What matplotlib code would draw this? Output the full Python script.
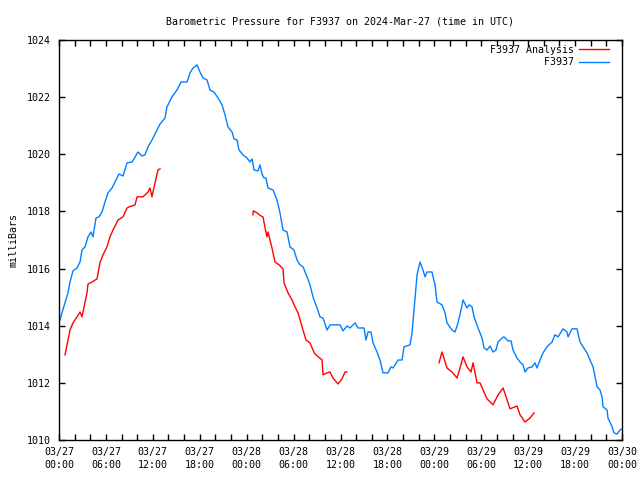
import matplotlib
matplotlib.use("Agg")
import matplotlib.pyplot as plt
import matplotlib.dates as mdates
import numpy as np
import pandas as pd

start = pd.Timestamp("2024-03-27 00:00")

# hours after 03/27 00:00 UTC, pressure in mb
obs_hours = [0.13, 0.38, 0.77, 1.15, 1.41, 1.79, 2.30, 2.69, 2.94, 3.33, 3.71, 4.09, 4.35,
             4.73, 5.12, 5.50, 5.88, 6.27, 6.78, 7.16, 7.67, 8.19, 8.70, 9.34, 10.10, 10.62,
             11.00, 11.38, 11.89, 12.92, 13.56, 13.81, 14.45, 15.09, 15.60, 16.37, 16.75,
             17.14, 17.65, 18.03, 18.42, 18.93, 19.31, 19.82, 20.34, 20.85, 21.23, 21.61,
             22.13, 22.38, 22.77, 23.02, 23.53, 24.04, 24.43, 24.68, 24.94, 25.45, 25.71,
             25.96, 26.22, 26.47, 26.73, 27.37, 27.88, 28.26, 28.65, 29.16, 29.54, 30.05,
             30.44, 30.82, 31.21, 31.72, 32.10, 32.48, 33.00, 33.38, 33.76, 34.28, 34.66,
             35.94, 36.32, 36.83, 37.22, 37.86, 38.24, 39.01, 39.26, 39.52, 39.90, 40.16,
             40.67, 41.05, 41.44, 42.08, 42.46, 42.72, 43.36, 43.87, 44.12, 44.89, 45.15,
             45.40, 45.79, 46.17, 46.55, 46.81, 47.06, 47.70, 48.09, 48.34, 48.98, 49.37,
             49.62, 50.26, 50.65, 51.03, 51.41, 51.67, 52.18, 52.44, 52.82, 53.08, 53.59,
             54.10, 54.36, 54.74, 55.12, 55.51, 55.89, 56.15, 56.66, 56.91, 57.42, 57.81,
             58.06, 58.57, 58.96, 59.34, 59.60, 59.98, 60.49, 60.88, 61.13, 61.52, 61.90,
             62.41, 63.05, 63.43, 63.82, 64.46, 64.97, 65.10, 65.61, 66.25, 66.63, 67.02,
             67.53, 67.91, 68.30, 68.55, 68.81, 69.19, 69.45, 69.58, 70.09, 70.21, 70.73,
             70.98, 71.37, 71.75, 72.00]
obs_mb = [1014.20, 1014.45, 1014.80, 1015.15, 1015.53, 1015.92, 1016.02, 1016.23, 1016.65,
          1016.76, 1017.11, 1017.28, 1017.11, 1017.77, 1017.81, 1017.98, 1018.33, 1018.65,
          1018.82, 1019.03, 1019.31, 1019.24, 1019.70, 1019.73, 1020.08, 1019.94, 1019.98,
          1020.26, 1020.50, 1021.06, 1021.27, 1021.66, 1022.01, 1022.25, 1022.53, 1022.53,
          1022.85, 1023.02, 1023.13, 1022.88, 1022.67, 1022.60, 1022.25, 1022.18, 1021.97,
          1021.73, 1021.38, 1020.96, 1020.78, 1020.54, 1020.50, 1020.15, 1019.98, 1019.87,
          1019.73, 1019.84, 1019.45, 1019.42, 1019.63, 1019.31, 1019.17, 1019.17, 1018.82,
          1018.75, 1018.40, 1017.95, 1017.35, 1017.28, 1016.76, 1016.65, 1016.30, 1016.13,
          1016.06, 1015.71, 1015.43, 1015.01, 1014.62, 1014.31, 1014.27, 1013.85, 1014.03,
          1014.03, 1013.82, 1013.99, 1013.92, 1014.10, 1013.92, 1013.92, 1013.50, 1013.78,
          1013.78, 1013.40, 1013.08, 1012.80, 1012.35, 1012.35, 1012.56, 1012.52, 1012.80,
          1012.80, 1013.26, 1013.33, 1013.75, 1014.55, 1015.78, 1016.23, 1015.95, 1015.71,
          1015.88, 1015.88, 1015.43, 1014.83, 1014.73, 1014.45, 1014.10, 1013.85, 1013.78,
          1014.10, 1014.55, 1014.90, 1014.62, 1014.73, 1014.66, 1014.31, 1013.92, 1013.57,
          1013.22, 1013.15, 1013.29, 1013.08, 1013.15, 1013.43, 1013.57, 1013.61, 1013.47,
          1013.47, 1013.15, 1012.87, 1012.73, 1012.63, 1012.38, 1012.52, 1012.56, 1012.70,
          1012.52, 1012.80, 1013.05, 1013.26, 1013.43, 1013.68, 1013.61, 1013.89, 1013.78,
          1013.61, 1013.89, 1013.89, 1013.43, 1013.26, 1013.05, 1012.80, 1012.56, 1012.21,
          1011.86, 1011.75, 1011.50, 1011.16, 1011.05, 1010.77, 1010.46, 1010.25, 1010.21,
          1010.35, 1010.39]

# analysis comes in three separate runs
ana1_hours = [0.77, 1.41, 1.79, 2.30, 2.69, 2.94, 3.07, 3.58, 3.71, 4.22, 4.86, 5.24, 5.63,
              6.14, 6.52, 6.91, 7.55, 8.19, 8.70, 8.95, 9.72, 9.98, 10.74, 11.38, 11.64,
              11.89, 12.02, 12.28, 12.66, 12.92]
ana1_mb = [1012.98, 1013.85, 1014.10, 1014.31, 1014.48, 1014.31, 1014.48, 1015.15, 1015.46,
           1015.53, 1015.64, 1016.20, 1016.48, 1016.76, 1017.11, 1017.35, 1017.70, 1017.81,
           1018.12, 1018.16, 1018.23, 1018.51, 1018.51, 1018.68, 1018.82, 1018.51, 1018.68,
           1019.00, 1019.45, 1019.49]
ana2_hours = [24.81, 24.85, 25.32, 25.83, 26.09, 26.35, 26.60, 26.73, 27.24, 27.62, 28.14,
              28.65, 28.78, 29.29, 29.80, 30.18, 30.57, 31.08, 31.59, 32.10, 32.48, 32.74,
              33.64, 33.76, 34.28, 34.66, 35.04, 35.68, 36.19, 36.58, 36.83]
ana2_mb = [1017.88, 1018.02, 1017.95, 1017.84, 1017.81, 1017.42, 1017.11, 1017.28, 1016.72,
           1016.23, 1016.13, 1015.99, 1015.50, 1015.15, 1014.90, 1014.66, 1014.45, 1013.96,
           1013.50, 1013.40, 1013.15, 1013.01, 1012.80, 1012.28, 1012.35, 1012.38, 1012.17,
           1011.96, 1012.14, 1012.38, 1012.38]
ana3_hours = [48.60, 48.98, 49.62, 50.26, 50.90, 51.29, 51.67, 52.18, 52.69, 52.95, 53.46,
              53.84, 54.74, 55.51, 56.15, 56.79, 57.68, 58.57, 58.96, 59.60, 60.24, 60.75]
ana3_mb = [1012.70, 1013.08, 1012.52, 1012.38, 1012.17, 1012.52, 1012.91, 1012.56, 1012.38,
           1012.70, 1012.00, 1012.00, 1011.44, 1011.23, 1011.58, 1011.82, 1011.09, 1011.19,
           1010.88, 1010.63, 1010.77, 1010.95]

labels = ['F3937 Analysis', 'F3937']

def to_time(h):
    return start + pd.to_timedelta(np.array(h), unit="h")

# join the analysis runs with gaps
ana_t = np.concatenate([to_time(ana1_hours), [pd.NaT], to_time(ana2_hours), [pd.NaT], to_time(ana3_hours)])
ana_v = np.concatenate([ana1_mb, [np.nan], ana2_mb, [np.nan], ana3_mb])

plt.rcParams['font.family'] = ['DejaVu Sans Mono']
plt.rcParams['font.size'] = 7.2

fig = plt.figure(figsize=(6.4, 4.8), dpi=100)
ax = fig.add_axes([59/640, 40/480, 563/640, 400/480])

# monospace font, so padding with spaces right-aligns the legend text
w = max(len(s) for s in labels)
ax.plot(pd.to_datetime(ana_t), ana_v, color='#ff0000', lw=1, label=labels[0].rjust(w))
ax.plot(to_time(obs_hours), obs_mb, color='#0080ff', lw=1, label=labels[1].rjust(w))

ax.set_xlim(start, start + pd.Timedelta(hours=72))
ax.set_ylim(1010, 1024)
ax.set_yticks(np.arange(1010, 1025, 2))
ax.xaxis.set_major_locator(mdates.HourLocator(byhour=[0, 6, 12, 18]))
ax.xaxis.set_minor_locator(mdates.HourLocator(byhour=range(0, 24, 2)))
ax.xaxis.set_major_formatter(mdates.DateFormatter('%m/%d\n%H:%M'))
ax.tick_params(which='both', direction='in', top=True, right=True, length=4, width=1)
ax.tick_params(axis='x', pad=5)
ax.tick_params(axis='y', pad=6)
for lbl in ax.get_xticklabels():
    lbl.set_linespacing(1.4)
for s in ax.spines.values():
    s.set_linewidth(1)

ax.set_ylabel('milliBars', labelpad=6)
ax.set_title('Barometric Pressure for F3937 on 2024-Mar-27 (time in UTC)', fontsize=7.2, pad=11)

ax.legend(loc='upper right', bbox_to_anchor=(1 - 9/563, 1 - 1/400), frameon=False,
          markerfirst=False, handlelength=3.0, borderaxespad=0, labelspacing=0.25,
          handletextpad=0.5)

fig.savefig('out.png', dpi=100)
